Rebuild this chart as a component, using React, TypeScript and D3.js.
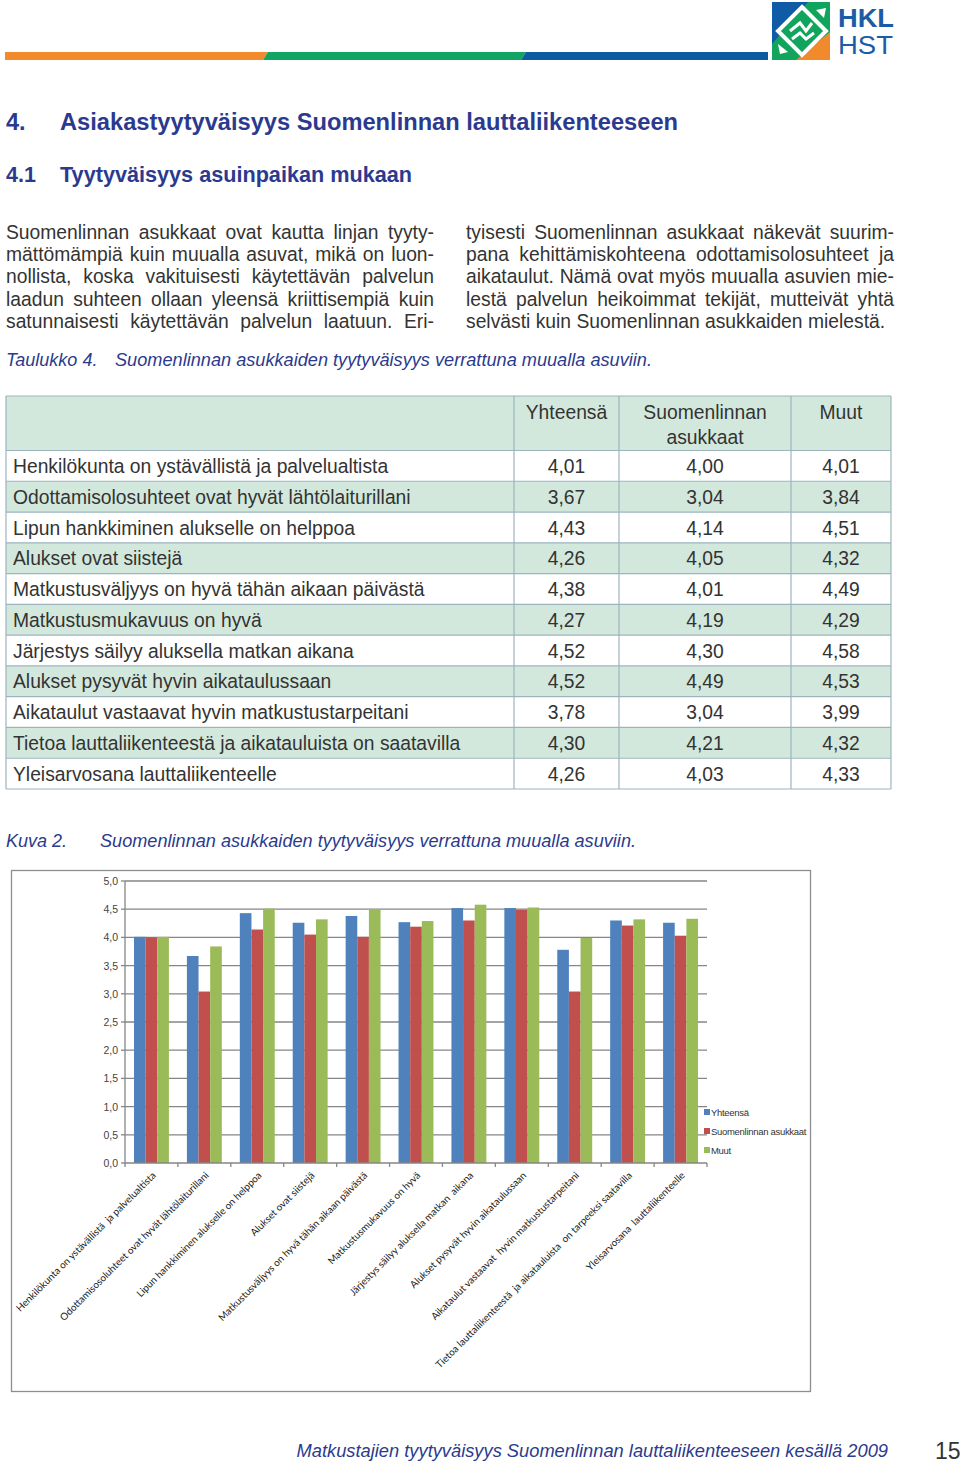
import React from "react";
import * as d3 from "d3";

// ---------- DATA ----------
const categories = [
  "Henkilökunta on ystävällistä ja palvelualtista",
  "Odottamisolosuhteet ovat hyvät lähtölaiturillani",
  "Lipun hankkiminen alukselle on helppoa",
  "Alukset ovat siistejä",
  "Matkustusväljyys on hyvä tähän aikaan päivästä",
  "Matkustusmukavuus on hyvä",
  "Järjestys säilyy aluksella matkan aikana",
  "Alukset pysyvät hyvin aikataulussaan",
  "Aikataulut vastaavat hyvin matkustustarpeitani",
  "Tietoa lauttaliikenteestä ja aikatauluista on saatavilla",
  "Yleisarvosana lauttaliikenteelle",
];
const chartLabels = [
  "Henkilökunta on ystävällistä  ja palvelualtista",
  "Odottamisosoluhteet ovat hyvät lähtölaiturillani",
  "Lipun hankkiminen alukselle on helppoa",
  "Alukset ovat siistejä",
  "Matkustusväljyys on hyvä tähän aikaan päivästä",
  "Matkustusmukavuus on hyvä",
  "Järjestys säilyy aluksella matkan  aikana",
  "Alukset pysyvät hyvin aikataulussaan",
  "Aikataulut vastaavat  hyvin matkustustarpeitani",
  "Tietoa lauttaliikenteestä  ja aikatauluista  on tarpeeksi saatavilla",
  "Yleisarvosana  lauttaliikenteelle",
];
const yhteensa = [4.01, 3.67, 4.43, 4.26, 4.38, 4.27, 4.52, 4.52, 3.78, 4.3, 4.26];
const suomenlinna = [4.0, 3.04, 4.14, 4.05, 4.01, 4.19, 4.3, 4.49, 3.04, 4.21, 4.03];
const muut = [4.01, 3.84, 4.51, 4.32, 4.49, 4.29, 4.58, 4.53, 3.99, 4.32, 4.33];
const seriesNames = ["Yhteensä", "Suomenlinnan asukkaat", "Muut"];
const seriesColors = ["#4f81bd", "#c0504d", "#9bbb59"];
const yTicks = [0, 0.5, 1, 1.5, 2, 2.5, 3, 3.5, 4, 4.5, 5];
const tableHeaders = [["Yhteensä"], ["Suomenlinnan", "asukkaat"], ["Muut"]];

const leftParagraph = [
  "Suomenlinnan asukkaat ovat kautta linjan tyyty-",
  "mättömämpiä kuin muualla asuvat, mikä on luon-",
  "nollista, koska vakituisesti käytettävän palvelun",
  "laadun suhteen ollaan yleensä kriittisempiä kuin",
  "satunnaisesti käytettävän palvelun laatuun. Eri-",
];
const rightParagraph = [
  "tyisesti Suomenlinnan asukkaat näkevät suurim-",
  "pana kehittämiskohteena odottamisolosuhteet ja",
  "aikataulut. Nämä ovat myös muualla asuvien mie-",
  "lestä palvelun heikoimmat tekijät, mutteivät yhtä",
  "selvästi kuin Suomenlinnan asukkaiden mielestä.",
];

const NAVY = "#2b3a8e";
const TEXT = "#333333";
const SANS = "'Liberation Sans', Arial, Helvetica, sans-serif";

let _ctx: CanvasRenderingContext2D | null = null;
function measure(text: string, font: string) {
  if (!_ctx) _ctx = document.createElement("canvas").getContext("2d");
  _ctx!.font = font;
  return _ctx!.measureText(text).width;
}

function JustifiedLine({ x, y, width, text, justify, size }: any) {
  const font = `${size}px 'Liberation Sans'`;
  const words = text.split(" ");
  if (!justify) {
    return (
      <text x={x} y={y} fontSize={size} fill={TEXT} fontFamily={SANS}>
        {text}
      </text>
    );
  }
  const widths = words.map((w: string) => measure(w, font));
  const total = widths.reduce((a: number, b: number) => a + b, 0);
  const gap = (width - total) / (words.length - 1);
  let cx = x;
  return (
    <g>
      {words.map((w: string, i: number) => {
        const el = (
          <text key={i} x={cx} y={y} fontSize={size} fill={TEXT} fontFamily={SANS}>
            {w}
          </text>
        );
        cx += widths[i] + gap;
        return el;
      })}
    </g>
  );
}

const fmt = (v: number) => d3.format(".2f")(v).replace(".", ",");

export default function App() {
  const x0 = d3
    .scaleBand<number>()
    .domain(d3.range(chartLabels.length))
    .range([125, 707])
    .paddingInner(0.34)
    .paddingOuter(0.17);
  const x1 = d3.scaleBand<number>().domain([0, 1, 2]).range([0, x0.bandwidth()]);
  const y = d3.scaleLinear().domain([0, 5]).range([1163, 881]);
  const step = x0.step();
  const values = [yhteensa, suomenlinna, muut];

  const colX = [6, 514, 619, 791, 891];
  const headerTop = 396;
  const headerBottom = 450.5;
  const rowH = (789 - headerBottom) / categories.length;
  const tableRows = categories.map((c, i) => ({
    label: c,
    vals: [yhteensa[i], suomenlinna[i], muut[i]],
    top: headerBottom + i * rowH,
    shaded: i % 2 === 1,
  }));

  return (
    <svg
      width={960}
      height={1467}
      viewBox="0 0 960 1467"
      style={{ position: "absolute", left: 0, top: 0, background: "#fff" }}
    >
      <rect x={0} y={0} width={960} height={1467} fill="#fff" />
      {/* top bar */}
      <polygon points="5,52 268,52 263,60 5,60" fill="#f28a2e" />
      <polygon points="268,52 526,52 521,60 263,60" fill="#12a463" />
      <polygon points="526,52 768,52 768,60 521,60" fill="#0c5aa0" />
      {/* logo */}
      <g transform="translate(772,2)">
        <rect x={0} y={0} width={58} height={58} fill="#11a45c" />
        <polygon points="0,0 36,0 0,42" fill="#0f5ba5" />
        <polygon points="58,30 58,58 24,58" fill="#f08a2c" />
        <path d="M30,5 L54,29 L30,53 L6,29 Z" fill="#11a45c" stroke="#fff" strokeWidth={4} />
        <path d="M18,29 L28,21 L34,29 L40,21" fill="none" stroke="#fff" strokeWidth={3} />
        <path d="M20,37 L28,31 L34,37 L42,31" fill="none" stroke="#fff" strokeWidth={3} />
        <polygon points="44,8 54,6 52,16" fill="#fff" />
        <polygon points="6,42 8,52 16,50" fill="#fff" />
      </g>
      <text x={838} y={27} fontFamily={SANS} fontWeight="bold" fontSize={25} fill="#1a5ca6" textLength={56} lengthAdjust="spacingAndGlyphs">
        HKL
      </text>
      <text x={838} y={54} fontFamily={SANS} fontSize={25} fill="#1a5ca6" textLength={55} lengthAdjust="spacingAndGlyphs">
        HST
      </text>

      {/* headings */}
      <text x={6} y={130} fontFamily={SANS} fontWeight="bold" fontSize={23.5} fill={NAVY}>4.</text>
      <text x={60} y={130} fontFamily={SANS} fontWeight="bold" fontSize={23.5} fill={NAVY} textLength={618} lengthAdjust="spacingAndGlyphs">
        Asiakastyytyväisyys Suomenlinnan lauttaliikenteeseen
      </text>
      <text x={6} y={182} fontFamily={SANS} fontWeight="bold" fontSize={21.5} fill={NAVY}>4.1</text>
      <text x={60} y={182} fontFamily={SANS} fontWeight="bold" fontSize={21.5} fill={NAVY} textLength={352} lengthAdjust="spacingAndGlyphs">
        Tyytyväisyys asuinpaikan mukaan
      </text>

      {/* paragraphs */}
      {leftParagraph.map((t, i) => (
        <JustifiedLine key={"l" + i} x={6} y={239 + i * 22.2} width={428} text={t} justify={true} size={19.3} />
      ))}
      {rightParagraph.map((t, i) => (
        <JustifiedLine key={"r" + i} x={466} y={239 + i * 22.2} width={428} text={t} justify={i < rightParagraph.length - 1} size={19.3} />
      ))}

      {/* table caption */}
      <text x={6} y={366} fontFamily={SANS} fontStyle="italic" fontSize={18} fill={NAVY}>Taulukko 4.</text>
      <text x={115} y={366} fontFamily={SANS} fontStyle="italic" fontSize={18} fill={NAVY} textLength={537} lengthAdjust="spacingAndGlyphs">
        Suomenlinnan asukkaiden tyytyväisyys verrattuna muualla asuviin.
      </text>

      {/* table */}
      <rect x={colX[0]} y={headerTop} width={colX[4] - colX[0]} height={headerBottom - headerTop} fill="#d3e8dc" />
      {tableRows.map((r, i) => (
        <rect key={"bg" + i} x={colX[0]} y={r.top} width={colX[4] - colX[0]} height={rowH} fill={r.shaded ? "#d3e8dc" : "#ffffff"} />
      ))}
      {[headerTop, headerBottom, ...tableRows.map((r) => r.top + rowH)].map((yy, i) => (
        <line key={"h" + i} x1={colX[0]} x2={colX[4]} y1={yy} y2={yy} stroke="#9db4bf" strokeWidth={1.2} />
      ))}
      {colX.map((xx, i) => (
        <line key={"v" + i} x1={xx} x2={xx} y1={headerTop} y2={789} stroke="#9db4bf" strokeWidth={1.2} />
      ))}
      {tableHeaders.map((h, j) =>
        h.map((line, k) => (
          <text
            key={"th" + j + k}
            x={(colX[j + 1] + colX[j + 2]) / 2}
            y={419 + k * 24.5}
            textAnchor="middle"
            fontFamily={SANS}
            fontSize={19.3}
            fill={TEXT}
          >
            {line}
          </text>
        ))
      )}
      {tableRows.map((r, i) => (
        <g key={"tr" + i}>
          <text x={13} y={r.top + 22.5} fontFamily={SANS} fontSize={19.3} fill={TEXT}>
            {r.label}
          </text>
          {r.vals.map((v, j) => (
            <text
              key={j}
              x={(colX[j + 1] + colX[j + 2]) / 2}
              y={r.top + 22.5}
              textAnchor="middle"
              fontFamily={SANS}
              fontSize={19.3}
              fill={TEXT}
            >
              {fmt(v)}
            </text>
          ))}
        </g>
      ))}

      {/* figure caption */}
      <text x={6} y={847} fontFamily={SANS} fontStyle="italic" fontSize={18} fill={NAVY}>Kuva 2.</text>
      <text x={100} y={847} fontFamily={SANS} fontStyle="italic" fontSize={18} fill={NAVY} textLength={536} lengthAdjust="spacingAndGlyphs">
        Suomenlinnan asukkaiden tyytyväisyys verrattuna muualla asuviin.
      </text>

      {/* chart frame */}
      <rect x={11.5} y={870.5} width={799} height={521} fill="#fff" stroke="#8e8e8e" strokeWidth={1.3} />

      {/* gridlines + y ticks */}
      {yTicks.map((t) => (
        <g key={"g" + t}>
          {t > 0 && (
            <line x1={125} x2={707} y1={y(t)} y2={y(t)} stroke="#868686" strokeWidth={1.3} />
          )}
          <line x1={121} x2={125} y1={y(t)} y2={y(t)} stroke="#868686" strokeWidth={1.3} />
          <text x={118} y={y(t) + 4} textAnchor="end" fontFamily={SANS} fontSize={10.5} fill="#444">
            {d3.format(".1f")(t).replace(".", ",")}
          </text>
        </g>
      ))}

      {/* bars */}
      {values.map((series, s) =>
        series.map((v, i) => (
          <rect
            key={"b" + s + "-" + i}
            x={(x0(i) as number) + (x1(s) as number)}
            y={y(v)}
            width={x1.bandwidth()}
            height={y(0) - y(v)}
            fill={seriesColors[s]}
          />
        ))
      )}

      {/* axes */}
      <line x1={125} x2={125} y1={y(5)} y2={y(0)} stroke="#868686" strokeWidth={1.3} />
      <line x1={125} x2={707} y1={y(0)} y2={y(0)} stroke="#868686" strokeWidth={1.3} />
      {d3.range(chartLabels.length + 1).map((i) => (
        <line key={"xt" + i} x1={125 + i * step} x2={125 + i * step} y1={y(0)} y2={y(0) + 4} stroke="#868686" strokeWidth={1.3} />
      ))}

      {/* x labels */}
      {chartLabels.map((l, i) => {
        const cx = (x0(i) as number) + x0.bandwidth() / 2;
        return (
          <text
            key={"xl" + i}
            transform={`translate(${cx + 5},${1176}) rotate(-45)`}
            textAnchor="end"
            fontFamily="Lato, 'Open Sans', sans-serif"
            fontSize={9.9}
            fill="#222"
            style={{ whiteSpace: "pre" }}
          >
            {l}
          </text>
        );
      })}

      {/* legend */}
      {seriesNames.map((n, i) => (
        <g key={"lg" + i} transform={`translate(704,${1109 + i * 19})`}>
          <rect x={0} y={0} width={6} height={6} fill={seriesColors[i]} />
          <text x={7} y={6.5} fontFamily={SANS} fontSize={9.5} fill="#333" letterSpacing={-0.3}>
            {n}
          </text>
        </g>
      ))}

      {/* footer */}
      <text x={888} y={1457} textAnchor="end" fontFamily={SANS} fontStyle="italic" fontSize={18.3} fill={NAVY}>
        Matkustajien tyytyväisyys Suomenlinnan lauttaliikenteeseen kesällä 2009
      </text>
      <text x={935} y={1459} fontFamily={SANS} fontSize={23} fill={TEXT}>
        15
      </text>
    </svg>
  );
}
